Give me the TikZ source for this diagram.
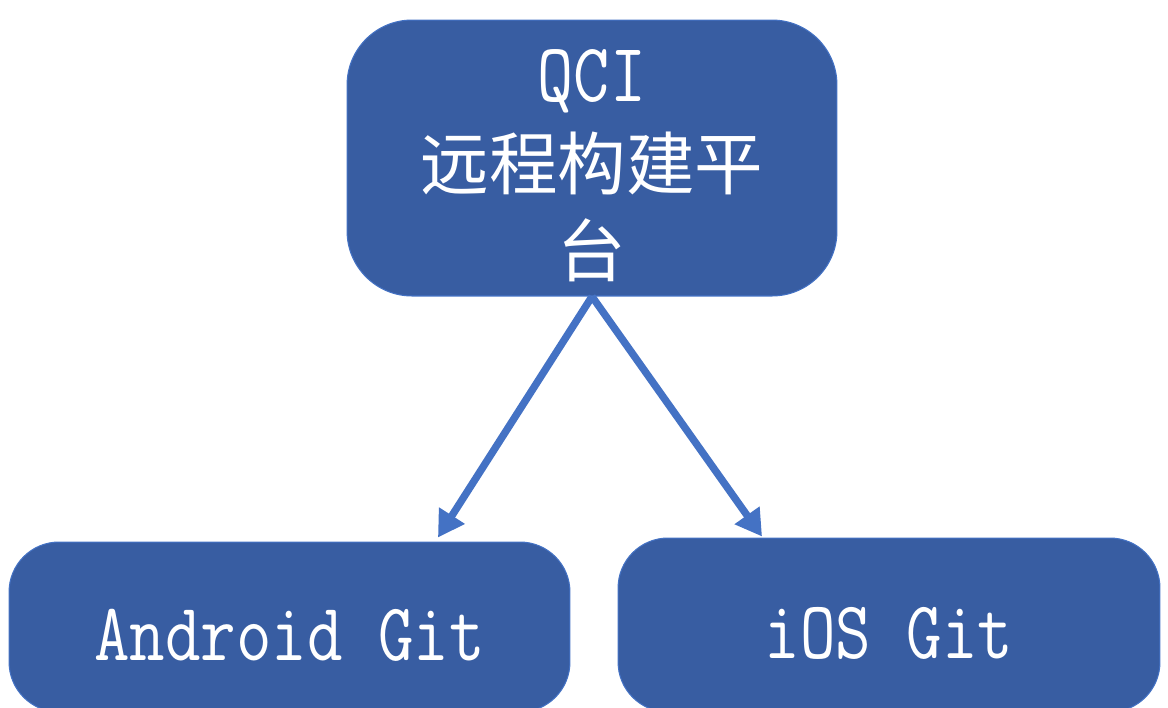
\documentclass[tikz,border=0pt]{standalone}
\usepackage{fontspec}
\usepackage{graphicx}
\newfontfamily\cjk{Noto Sans CJK SC}
\usetikzlibrary{arrows.meta}
\definecolor{boxblue}{RGB}{56,93,162}
\definecolor{lineblue}{RGB}{68,114,196}
% narrow typewriter text, like the half-width letters of the original
\newcommand\narrowtt[1]{{\ttfamily\scalebox{0.84}[1]{#1}}}

\begin{document}
\begin{tikzpicture}[x=0.02cm, y=-0.02cm,
    box/.style={draw=lineblue, line width=0.6pt, fill=boxblue, text=white, align=center, inner sep=0pt},
    link/.style={draw=lineblue, line width=4.2pt, -{Triangle[length=0.52cm, width=0.58cm]}}]
      \path[use as bounding box, clip] (0,0) rectangle (1168,707);
      % build platform on top
      \node[box, rounded corners=1.3cm, minimum width=9.8cm, minimum height=5.52cm,
        font=\fontsize{39}{50}\selectfont] (qci) at (592,158)
        {\rule{0pt}{1.35cm}{\fontsize{47.5}{50}\selectfont\narrowtt{QCI}}\\{\cjk 远程构建平}\\{\cjk 台}};
      % the two repositories below
      \node[box, rounded corners=1cm, minimum width=11.22cm, minimum height=3.4cm,
        font=\fontsize{46.7}{56}\selectfont] (android) at (289.5,627) {\rule{0pt}{1.36cm}\narrowtt{Android Git}};
      \node[box, rounded corners=1cm, minimum width=10.84cm, minimum height=3.48cm,
        font=\fontsize{46.7}{56}\selectfont] (ios) at (889,625) {\rule{0pt}{1.36cm}\narrowtt{iOS Git}};
      % arrows from the platform
      \draw[link] (qci.south) -- ([xshift=2.97cm, yshift=0.08cm]android.north);
      \draw[link] (qci.south) -- ([xshift=-2.54cm, yshift=0.02cm]ios.north);
    \end{tikzpicture}
\end{document}
